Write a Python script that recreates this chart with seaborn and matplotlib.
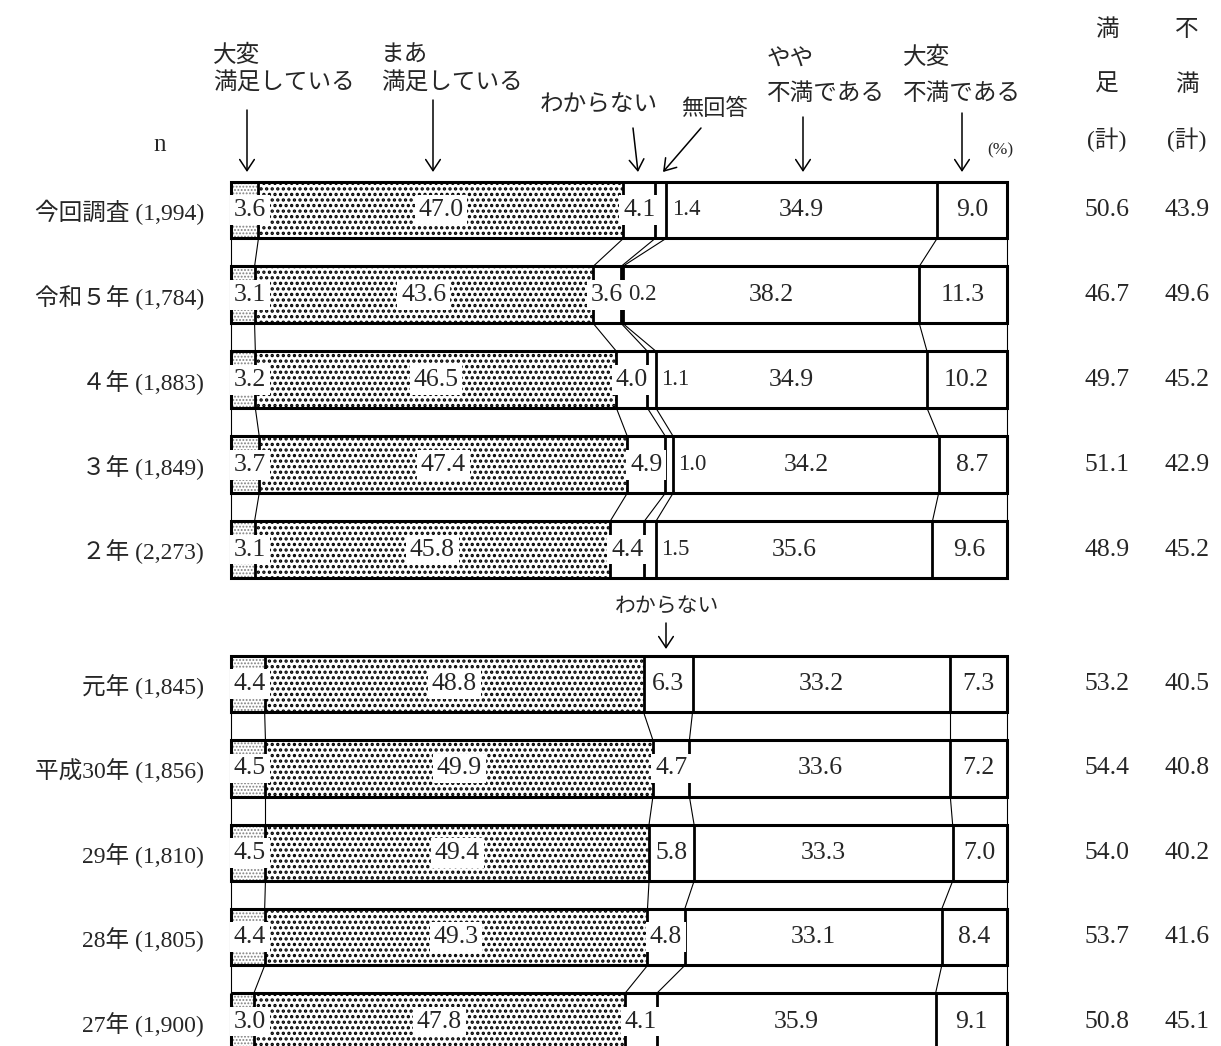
import numpy as np
import pandas as pd
import matplotlib
matplotlib.use("Agg")
import matplotlib.pyplot as plt
from matplotlib.patches import FancyArrowPatch
from matplotlib.transforms import blended_transform_factory
import seaborn as sns

# ---------------- data ----------------
periods_top = ["今回調査", "令和５年", "４年", "３年", "２年"]
n_top = ["1,994", "1,784", "1,883", "1,849", "2,273"]
very_sat_top = [3.6, 3.1, 3.2, 3.7, 3.1]
sat_top = [47.0, 43.6, 46.5, 47.4, 45.8]
dk_top = [4.1, 3.6, 4.0, 4.9, 4.4]
na_top = [1.4, 0.2, 1.1, 1.0, 1.5]
dissat_top = [34.9, 38.2, 34.9, 34.2, 35.6]
very_dissat_top = [9.0, 11.3, 10.2, 8.7, 9.6]
sat_total_top = [50.6, 46.7, 49.7, 51.1, 48.9]
dissat_total_top = [43.9, 49.6, 45.2, 42.9, 45.2]

periods_bot = ["元年", "平成30年", "29年", "28年", "27年"]
n_bot = ["1,845", "1,856", "1,810", "1,805", "1,900"]
very_sat_bot = [4.4, 4.5, 4.5, 4.4, 3.0]
sat_bot = [48.8, 49.9, 49.4, 49.3, 47.8]
dk_bot = [6.3, 4.7, 5.8, 4.8, 4.1]
dissat_bot = [33.2, 33.6, 33.3, 33.1, 35.9]
very_dissat_bot = [7.3, 7.2, 7.0, 8.4, 9.1]
sat_total_bot = [53.2, 54.4, 54.0, 53.7, 50.8]
dissat_total_bot = [40.5, 40.8, 40.2, 41.6, 45.1]

# ---------------- style ----------------
sns.set_theme(style="white")
plt.rcParams["font.family"] = ["Liberation Serif", "Noto Sans CJK JP", "DejaVu Sans"]

W, H = 1221, 1046
fig = plt.figure(figsize=(W / 100, H / 100), dpi=100)
fig.patch.set_facecolor("white")


def fx(x):
    return x / W


def fy(y):
    return 1 - y / H


BAR_W = 0.67
VAL_FS = 18.5
CJK_FS = 17

ax_top = fig.add_axes([230.5 / W, fy(592.0), 776.5 / W, 424.5 / H])
ax_bot = fig.add_axes([230.5 / W, fy(1063.8), 776.5 / W, 422.0 / H])


def hatched_bars(ax, col, df, hatch, hcolor, hlw):
    before = len(ax.patches)
    with plt.rc_context({"hatch.linewidth": hlw}):
        sns.barplot(data=df, x=col, y="label", width=BAR_W, errorbar=None, ax=ax,
                    saturation=1, color="white", linewidth=0, edgecolor=hcolor,
                    hatch=hatch)
    for p in ax.patches[before:]:
        if hasattr(p, "set_hatch_linewidth"):
            p.set_hatch_linewidth(hlw)


def draw_group(ax, periods, ns, seg_list, na_index, sat_tot, dis_tot):
    labels = [f"{p} ({n})" for p, n in zip(periods, ns)]
    segs = np.array(seg_list, dtype=float)
    cum = np.cumsum(segs, axis=0)
    nseg, n = segs.shape
    df = pd.DataFrame({"label": labels, "full": 100.0, "c0": cum[0], "c1": cum[1]})
    common = dict(data=df, y="label", width=BAR_W, errorbar=None, ax=ax, saturation=1)
    sns.barplot(x="full", color="white", linewidth=0, **common)
    hatched_bars(ax, "c1", df, "...", "black", 1.6)
    hatched_bars(ax, "c0", df, ".....", "#808080", 0.9)

    y = np.arange(n)
    # internal boundaries
    for k in range(nseg - 1):
        ax.vlines(cum[k], y - BAR_W / 2, y + BAR_W / 2, color="black", lw=2.0, zorder=3)
    # frame
    sns.barplot(x="full", fill=False, color="black", linewidth=2.2, **common)

    # connecting lines
    bounds = np.vstack([np.zeros(n), cum[:-1], np.full(n, 100.0)])
    for i in range(n - 1):
        for b in bounds:
            ax.plot([b[i], b[i + 1]], [i + BAR_W / 2, i + 1 - BAR_W / 2],
                    color="black", lw=0.8, zorder=2)

    starts = cum - segs
    centers = starts + segs / 2
    box = dict(boxstyle="square,pad=0.15", fc="white", ec="none")
    for i in range(n):
        for k in range(nseg):
            v = segs[k, i]
            if k == 0:
                ax.text(0.4, i, f"{v:.1f}", ha="left", va="center", fontsize=VAL_FS,
                        bbox=box, zorder=5)
            elif k == na_index:
                ax.text(cum[k, i] + 0.7, i, f"{v:.1f}", ha="left", va="center",
                        fontsize=VAL_FS - 2, zorder=5)
            elif k in (1, 2):
                ax.text(centers[k, i], i, f"{v:.1f}", ha="center", va="center",
                        fontsize=VAL_FS, bbox=box, zorder=5)
            else:
                ax.text(centers[k, i], i, f"{v:.1f}", ha="center", va="center",
                        fontsize=VAL_FS, zorder=5)

    tr = blended_transform_factory(fig.transFigure, ax.transData)
    for i in range(n):
        ax.text(fx(1107), i, f"{sat_tot[i]:.1f}", transform=tr, ha="center",
                va="center", fontsize=VAL_FS)
        ax.text(fx(1187), i, f"{dis_tot[i]:.1f}", transform=tr, ha="center",
                va="center", fontsize=VAL_FS)

    for p in ax.patches:
        p.set_clip_on(False)
    for l in ax.lines:
        l.set_clip_on(False)
    for c in ax.collections:
        c.set_clip_on(False)

    ax.set_xlim(0, 100)
    ax.set_ylim(n - 0.5, -0.5)
    sns.despine(ax=ax, left=True, bottom=True)
    ax.set_xticks([])
    ax.set(xlabel="", ylabel="")
    ax.tick_params(axis="y", length=0, pad=19, labelsize=17)
    ax.set_facecolor("none")


draw_group(ax_top, periods_top, n_top,
           [very_sat_top, sat_top, dk_top, na_top, dissat_top, very_dissat_top],
           3, sat_total_top, dissat_total_top)
draw_group(ax_bot, periods_bot, n_bot,
           [very_sat_bot, sat_bot, dk_bot, dissat_bot, very_dissat_bot],
           None, sat_total_bot, dissat_total_bot)

# ---------------- header ----------------
def t(x, y, s, ha="left", fs=CJK_FS):
    fig.text(fx(x), fy(y), s, ha=ha, va="center", fontsize=fs)


t(213, 56, "大変")
t(213, 83, "満足している")
t(381, 56, "まあ")
t(381, 83, "満足している")
t(540, 105, "わからない")
t(681, 109, "無回答", fs=16)
t(767, 60, "やや")
t(767, 94, "不満である")
t(903, 58, "大変")
t(903, 94, "不満である")
t(1000, 150, "(%)", ha="center", fs=12.5)
t(160, 145, "n", ha="center", fs=18)
t(1107, 30, "満", ha="center")
t(1107, 85, "足", ha="center")
t(1107, 140, "(計)", ha="center")
t(1187, 30, "不", ha="center")
t(1187, 85, "満", ha="center")
t(1187, 140, "(計)", ha="center")
t(615, 608, "わからない", fs=15)


def arrow(x0, y0, x1, y1):
    fig.add_artist(FancyArrowPatch((fx(x0), fy(y0)), (fx(x1), fy(y1)),
                                   transform=fig.transFigure,
                                   arrowstyle="->,head_length=0.5,head_width=0.33",
                                   mutation_scale=16, lw=1.1, color="black",
                                   shrinkA=0, shrinkB=0))


arrow(247, 110, 247, 172)
arrow(433, 100, 433, 172)
arrow(633, 128, 638, 172)
arrow(701, 128, 663, 172)
arrow(803, 117, 803, 172)
arrow(962, 113, 962, 172)
arrow(666, 623, 666, 649)

fig.savefig("out.png", dpi=100)
